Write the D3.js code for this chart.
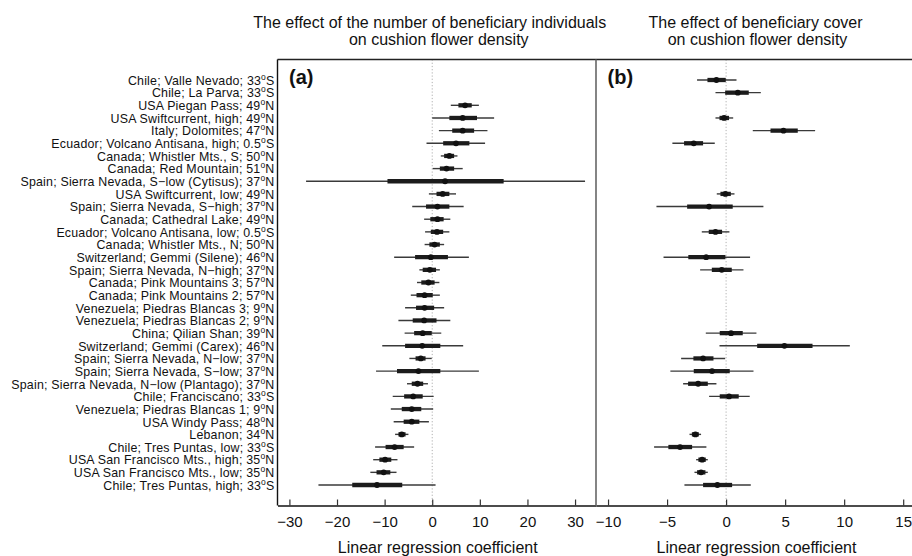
<!DOCTYPE html>
<html><head><meta charset="utf-8">
<script src="https://cdn.jsdelivr.net/npm/d3@7"></script>
<style>
html,body{margin:0;padding:0;background:#fff;}
svg{display:block;font-family:"Liberation Sans",Arial,Helvetica,sans-serif;}
</style></head>
<body>
<svg id="chart" width="912" height="556"></svg>
<script>
// ---- categories (site; latitude) ----
const sites = [
"Chile; Valle Nevado; 33°S","Chile; La Parva; 33°S","USA Piegan Pass; 49°N",
"USA Swiftcurrent, high; 49°N","Italy; Dolomites; 47°N","Ecuador; Volcano Antisana, high; 0.5°S",
"Canada; Whistler Mts., S; 50°N","Canada; Red Mountain; 51°N","Spain; Sierra Nevada, S−low (Cytisus); 37°N",
"USA Swiftcurrent, low; 49°N","Spain; Sierra Nevada, S−high; 37°N","Canada; Cathedral Lake; 49°N",
"Ecuador; Volcano Antisana, low; 0.5°S","Canada; Whistler Mts., N; 50°N","Switzerland; Gemmi (Silene); 46°N",
"Spain; Sierra Nevada, N−high; 37°N","Canada; Pink Mountains 3; 57°N","Canada; Pink Mountains 2; 57°N",
"Venezuela; Piedras Blancas 3; 9°N","Venezuela; Piedras Blancas 2; 9°N","China; Qilian Shan; 39°N",
"Switzerland; Gemmi (Carex); 46°N","Spain; Sierra Nevada, N−low; 37°N","Spain; Sierra Nevada, S−low; 37°N",
"Spain; Sierra Nevada, N−low (Plantago); 37°N","Chile; Franciscano; 33°S","Venezuela; Piedras Blancas 1; 9°N",
"USA Windy Pass; 48°N","Lebanon; 34°N","Chile; Tres Puntas, low; 33°S",
"USA San Francisco Mts., high; 35°N","USA San Francisco Mts., low; 35°N","Chile; Tres Puntas, high; 33°S"
];

// ---- panel (a): effect of number of beneficiary individuals ----
const aLow95  = [null,null,3.9,0.0,1.4,-1.2,1.8,0.1,-26.5,-0.7,-4.2,-1.7,-1.5,-1.6,-8.0,-2.7,-3.2,-4.5,-5.7,-7.1,-5.8,-10.5,-4.8,-11.8,-5.3,-8.3,-8.7,-8.1,-7.8,-12.0,-12.4,-13.0,-23.9];
const aLow50  = [null,null,5.5,3.6,4.2,2.3,2.5,1.6,-9.4,0.9,-1.3,-0.4,-0.3,-0.6,-3.6,-2.0,-2.3,-3.3,-3.4,-4.1,-3.8,-5.7,-3.5,-7.4,-4.3,-5.9,-6.4,-6.0,-7.1,-9.8,-11.1,-11.7,-16.8];
const aMid    = [null,null,6.9,6.4,6.4,5.0,3.6,3.0,2.7,2.2,1.1,1.1,1.0,0.5,-0.3,-0.5,-0.8,-1.6,-1.6,-1.7,-2.0,-2.1,-2.4,-2.9,-3.1,-4.0,-4.3,-4.3,-6.4,-7.9,-9.9,-10.2,-11.6];
const aHigh50 = [null,null,8.3,9.4,8.8,7.8,4.6,4.6,15.0,3.6,3.6,2.4,2.3,1.6,3.3,0.8,0.5,0.1,0.4,0.9,-0.1,1.7,-1.4,1.7,-1.9,-2.0,-2.3,-2.7,-5.6,-6.0,-8.6,-8.8,-6.3];
const aHigh95 = [null,null,9.8,13.0,11.6,11.1,5.3,6.4,32.1,5.0,6.6,3.8,3.6,2.5,7.7,1.6,1.5,1.6,2.5,3.8,1.9,6.5,-0.1,9.8,-0.9,0.3,0.2,-0.7,-5.0,-3.8,-7.3,-7.5,0.7];

// ---- panel (b): effect of beneficiary cover ----
const bLow95  = [-2.46,-0.9,null,-0.9,2.26,-4.55,null,null,null,-0.79,-5.9,null,-2.06,null,-5.3,-2.2,null,null,null,null,-1.72,-0.56,-3.81,-4.72,-3.64,-1.44,null,null,-3.1,-6.1,-2.54,-2.68,-3.53];
const bLow50  = [-1.58,-0.08,null,-0.56,3.76,-3.56,null,null,null,-0.48,-3.3,null,-1.47,null,-3.2,-1.21,null,null,null,null,-0.54,2.63,-2.77,-2.74,-3.22,-0.54,null,null,-2.9,-4.89,-2.35,-2.46,-1.95];
const bMid    = [-0.82,0.99,null,-0.17,4.86,-2.74,null,null,null,-0.06,-1.44,null,-0.9,null,-1.69,-0.37,null,null,null,null,0.42,4.94,-1.95,-1.19,-2.37,0.25,null,null,-2.6,-3.9,-2.03,-2.12,-0.74];
const bHigh50 = [-0.03,1.92,null,0.25,6.07,-1.95,null,null,null,0.4,0.56,null,-0.34,null,-0.06,0.48,null,null,null,null,1.41,7.32,-1.07,0.31,-1.55,1.07,null,null,-2.31,-2.88,-1.72,-1.75,0.51];
const bHigh95 = [0.88,2.94,null,0.6,7.54,-0.96,null,null,null,0.71,3.16,null,0.28,null,2.03,1.47,null,null,null,null,2.57,10.48,-0.08,2.32,-0.82,2.0,null,null,-2.12,-1.67,-1.55,-1.55,2.09];

// ---- ticks / titles ----
const aTicks = [-30,-20,-10,0,10,20,30];
const bTicks = [-10,-5,0,5,10,15];
const aTitle = ["The effect of the number of beneficiary individuals","on cushion flower density"];
const bTitle = ["The effect of beneficiary cover","on cushion flower density"];
const xTitle = "Linear regression coefficient";
const panelTags = ["(a)","(b)"];

// ---- layout ----
const svg = d3.select("#chart");
const yTop = 59.5, yBot = 505.5;
const aL = 277.5, aR = 596, bL = 596, bR = 915;
const fmt = v => (v < 0 ? "\u2212" + Math.abs(v) : String(v));

const y = d3.scalePoint().domain(d3.range(sites.length)).range([80, 485]);
const xa = d3.scaleLinear().domain([-32.5, 34.4]).range([aL, aR]);
const xb = d3.scaleLinear().domain([-11.02, 16.0]).range([bL, bR]);

// row labels
const lab = svg.append("g").attr("font-size", 12.4).attr("letter-spacing", 0.2)
  .attr("fill", "#111").attr("text-anchor", "end");
sites.forEach((s, i) => {
  const parts = s.split("°");
  const t = lab.append("text").attr("x", 274.5).attr("y", y(i) + 4.8);
  t.append("tspan").text(parts[0]);
  t.append("tspan").attr("font-size", 8.5).attr("dy", -5).text("o");
  t.append("tspan").attr("dy", 5).text(parts[1]);
});

function panel(x, L, R, lo95, lo50, mid, hi50, hi95, ticks, title, tag, titleShift) {
  const g = svg.append("g");
  // zero line
  g.append("line").attr("x1", x(0)).attr("x2", x(0)).attr("y1", yTop).attr("y2", yBot)
    .attr("stroke", "#b0b0b0").attr("stroke-width", 1).attr("stroke-dasharray", "1.2,2");
  const idx = d3.range(sites.length).filter(i => mid[i] !== null);
  g.selectAll(".thin").data(idx).join("line")
    .attr("x1", i => x(lo95[i])).attr("x2", i => x(hi95[i]))
    .attr("y1", i => y(i)).attr("y2", i => y(i))
    .attr("stroke", "#3a3a3a").attr("stroke-width", 1.4);
  g.selectAll(".thick").data(idx).join("line")
    .attr("x1", i => x(lo50[i])).attr("x2", i => x(hi50[i]))
    .attr("y1", i => y(i)).attr("y2", i => y(i))
    .attr("stroke", "#1c1c1c").attr("stroke-width", 4.3);
  g.selectAll(".pt").data(idx).join("circle")
    .attr("cx", i => x(mid[i])).attr("cy", i => y(i)).attr("r", 2.9)
    .attr("fill", "#111");
  // axis
  const ax = g.append("g").attr("transform", `translate(0,${yBot})`)
    .call(d3.axisBottom(x).tickValues(ticks).tickFormat(fmt).tickSizeInner(-6).tickSizeOuter(0).tickPadding(11));
  ax.select(".domain").attr("stroke", "#111").attr("stroke-width", 1.4);
  ax.selectAll(".tick line").attr("stroke", "#333").attr("stroke-width", 1.2);
  ax.selectAll(".tick text").attr("font-size", 15).attr("fill", "#111")
    .attr("font-family", "'Liberation Sans',Arial,sans-serif");
  const cx = (L + R) / 2;
  // titles
  title.forEach((t, k) => {
    g.append("text").attr("x", cx + (k === 0 ? titleShift : 2)).attr("y", 27.5 + k * 17.5).attr("text-anchor", "middle")
      .attr("font-size", 16).attr("fill", "#111").text(t);
  });
  g.append("text").attr("x", cx + 1).attr("y", 552.5).attr("text-anchor", "middle")
    .attr("font-size", 16).attr("fill", "#111").text(xTitle);
  g.append("text").attr("x", L + 11.5).attr("y", 83.5).attr("font-size", 20)
    .attr("font-weight", "bold").attr("fill", "#111").text(tag);
}

panel(xa, aL, aR, aLow95, aLow50, aMid, aHigh50, aHigh95, aTicks, aTitle, panelTags[0], -7);
panel(xb, bL, bR, bLow95, bLow50, bMid, bHigh50, bHigh95, bTicks, bTitle, panelTags[1], 0);

// frame
svg.append("line").attr("x1", aL).attr("x2", 912).attr("y1", yTop).attr("y2", yTop)
  .attr("stroke", "#222").attr("stroke-width", 1.4);
svg.append("line").attr("x1", aL).attr("x2", aL).attr("y1", yTop).attr("y2", yBot)
  .attr("stroke", "#111").attr("stroke-width", 1.4);
svg.append("line").attr("x1", aR).attr("x2", aR).attr("y1", yTop).attr("y2", yBot)
  .attr("stroke", "#666").attr("stroke-width", 1.6);
</script>
</body></html>
